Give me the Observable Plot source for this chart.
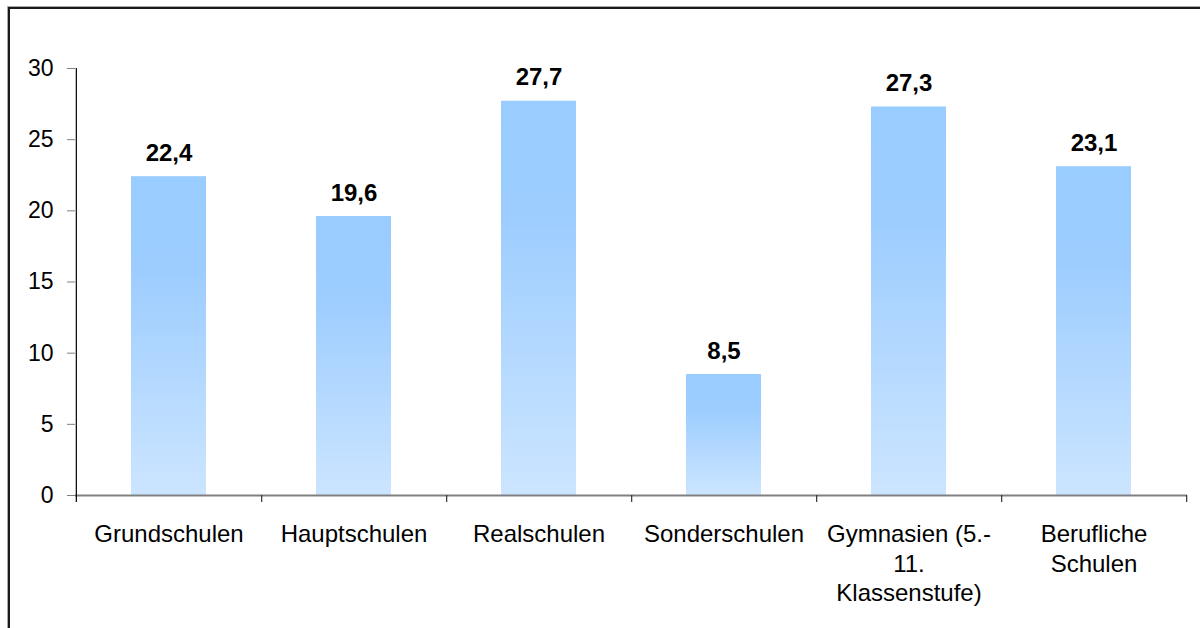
<!DOCTYPE html>
<html><head><meta charset="utf-8">
<script src="https://cdn.jsdelivr.net/npm/d3@7"></script>
<script src="https://cdn.jsdelivr.net/npm/@observablehq/plot@0.6"></script>
<style>
html,body{margin:0;padding:0;background:#fff;overflow:hidden}
#wrap{position:relative;width:1200px;height:628px}
#frame{position:absolute;left:8px;top:7px;width:1300px;height:800px;border-left:2px solid #1a1a1a;border-top:2px solid #1a1a1a;box-shadow:-1px -1px 0 #aaa}
#chart{position:absolute;left:0;top:0}
</style></head>
<body><div id="wrap"><div id="frame"></div><div id="chart"></div></div>
<script>
const categories = ["Grundschulen","Hauptschulen","Realschulen","Sonderschulen","Gymnasien (5.-\n11.\nKlassenstufe)","Berufliche\nSchulen"];
const values = [22.4, 19.6, 27.7, 8.5, 27.3, 23.1];
const valueLabels = ["22,4","19,6","27,7","8,5","27,3","23,1"];
const yTicks = [0,5,10,15,20,25,30];

const data = categories.map((c,i)=>({cat:c, value:values[i], label:valueLabels[i]}));
const font = "Liberation Sans, Arial, sans-serif";
const W = 1200, H = 628, mL = 75, mR = 13, mT = 68, mB = 133;
const step = (W - mL - mR) / categories.length;

function defs() {
  const ns = "http://www.w3.org/2000/svg";
  const d = document.createElementNS(ns, "defs");
  const g = document.createElementNS(ns, "linearGradient");
  g.setAttribute("id","barGrad"); g.setAttribute("x1","0"); g.setAttribute("y1","0"); g.setAttribute("x2","0"); g.setAttribute("y2","1");
  [["0","#99CCFF"],["0.3","#9dcdff"],["1","#CCE5FF"]].forEach(([o,c])=>{
    const s = document.createElementNS(ns,"stop"); s.setAttribute("offset",o); s.setAttribute("stop-color",c); g.appendChild(s);
  });
  d.appendChild(g);
  return d;
}

const chart = Plot.plot({
  width: W, height: H,
  marginLeft: mL, marginRight: mR, marginTop: mT, marginBottom: mB,
  style: {fontFamily: font, fontSize: "23px", color: "#000", background: "transparent"},
  x: {domain: categories, padding: 0, axis: null},
  y: {domain: [0,30], axis: null},
  marks: [
    defs,
    Plot.barY(data, {x:"cat", y:"value", fill:"url(#barGrad)", insetLeft: 55, insetRight: 55}),
    Plot.ruleY([0], {stroke:"#808080", strokeWidth: 2}),
    Plot.axisY({ticks: yTicks, tickSize: 8, tickPadding: 14, stroke: "#808080", fill: "#000", fontSize: 23, tickFormat: d => String(d), label: null}),
    Plot.ruleX([0], {x: () => categories[0], dx: -step/2, y1: -0.5, y2: 30, stroke:"#000", strokeWidth: 1.2}),
    Plot.ruleX(categories, {x: d=>d, dx: step/2, y1: -0.5, y2: 0, stroke:"#333", strokeWidth: 1.2}),
    Plot.text(data, {x:"cat", y:"value", text:"label", dy:-16, lineAnchor:"bottom", fontWeight:"bold", fontSize: 24}),
    Plot.text(data, {x:"cat", y:0, text:"cat", lineAnchor:"top", dy: 26, lineHeight: 1.22, fontSize: 24})
  ]
});
document.getElementById("chart").appendChild(chart);
</script></body></html>
